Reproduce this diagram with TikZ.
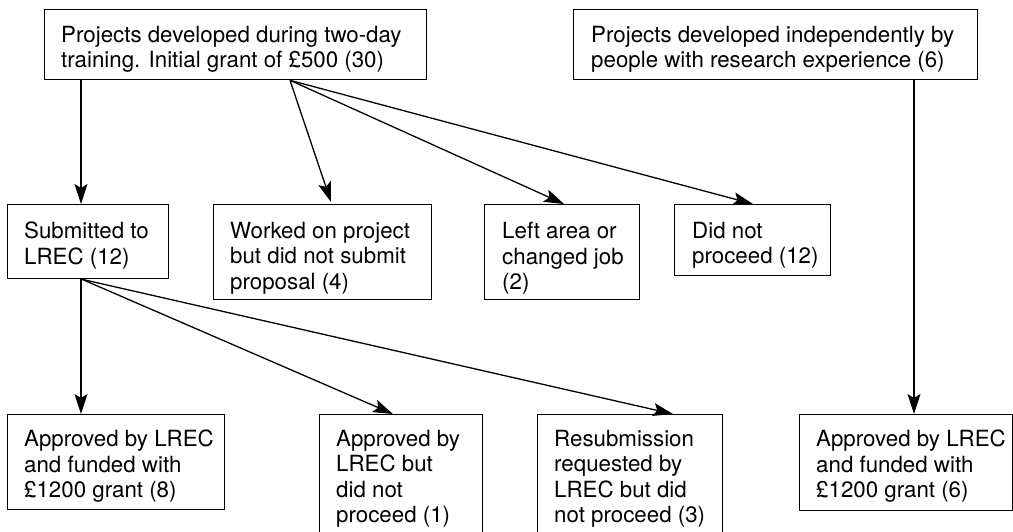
\documentclass[tikz,border=0pt]{standalone}
\usepackage{fontspec}
\setmainfont{TeX Gyre Heros}
\usetikzlibrary{arrows.meta}
\begin{document}
\begin{tikzpicture}[x=1pt,y=-1pt]
\tikzset{
 boxshape/.style={draw, line width=1.3pt, inner sep=0pt, anchor=north west},
 txt/.style={anchor=north west, inner sep=0pt, align=left, font=\fontsize{22.3}{25.5}\selectfont},
 arr/.style={line width=1.3pt, -{Stealth[length=20pt,width=13pt,inset=4pt]}}
}
\useasboundingbox (0,0) rectangle (1013,531);
\clip (0,0) rectangle (1013,531);
% boxes
\node[boxshape, minimum width=382pt, minimum height=70pt] (b1) at (44,9) {};
\node[boxshape, minimum width=404pt, minimum height=70pt] (b2) at (573,9) {};
\node[boxshape, minimum width=161pt, minimum height=74pt] (b3) at (7,204) {};
\node[boxshape, minimum width=218pt, minimum height=95pt] (b4) at (213,204) {};
\node[boxshape, minimum width=155pt, minimum height=95pt] (b5) at (484,204) {};
\node[boxshape, minimum width=156pt, minimum height=71pt] (b6) at (674,204) {};
\node[boxshape, minimum width=217pt, minimum height=95pt] (b7) at (7,414) {};
\node[boxshape, minimum width=163pt, minimum height=130pt] (b8) at (319,414) {};
\node[boxshape, minimum width=185pt, minimum height=130pt] (b9) at (537,414) {};
\node[boxshape, minimum width=213pt, minimum height=96pt] (b10) at (799,414) {};
% texts
\node[txt] (t1) at ([shift={(17pt,-17pt)}]b1.north west) {Projects developed during two-day\\training. Initial grant of £500 (30)};
\node[txt] (t2) at ([shift={(18pt,-17pt)}]b2.north west) {Projects developed independently by\\people with research experience (6)};
\node[txt] (t3) at ([shift={(17pt,-18pt)}]b3.north west) {Submitted to\\LREC (12)};
\node[txt] (t4) at ([shift={(17pt,-18pt)}]b4.north west) {Worked on project\\but did not submit\\proposal (4)};
\node[txt] (t5) at ([shift={(18pt,-18pt)}]b5.north west) {Left area or\\changed job\\(2)};
\node[txt] (t6) at ([shift={(18pt,-18pt)}]b6.north west) {Did not\\proceed (12)};
\node[txt] (t7) at ([shift={(17pt,-16pt)}]b7.north west) {Approved by LREC\\and funded with\\£1200 grant (8)};
\node[txt] (t8) at ([shift={(17pt,-16pt)}]b8.north west) {Approved by\\LREC but\\did not\\proceed (1)};
\node[txt] (t9) at ([shift={(17pt,-16pt)}]b9.north west) {Resubmission\\requested by\\LREC but did\\not proceed (3)};
\node[txt] (t10) at ([shift={(17pt,-16pt)}]b10.north west) {Approved by LREC\\and funded with\\£1200 grant (6)};
% connectors
\coordinate (f1) at ([xshift=246pt]b1.south west);
\draw[arr] ([xshift=37pt]b1.south west) -- ([xshift=74pt]b3.north west);
\draw[arr] (f1) -- ([xshift=118pt,yshift=2pt]b4.north west);
\draw[arr] (f1) -- ([xshift=80pt]b5.north west);
\draw[arr] (f1) -- ([xshift=79pt]b6.north west);
\coordinate (f2) at ([xshift=75pt]b3.south west);
\draw[arr] ([xshift=74pt]b3.south west) -- ([xshift=74pt]b7.north west);
\draw[arr] (f2) -- ([xshift=74pt]b8.north west);
\draw[arr] (f2) -- ([xshift=136pt]b9.north west);
\draw[arr] ([xshift=341pt]b2.south west) -- ([xshift=115pt]b10.north west);
\end{tikzpicture}
\end{document}
